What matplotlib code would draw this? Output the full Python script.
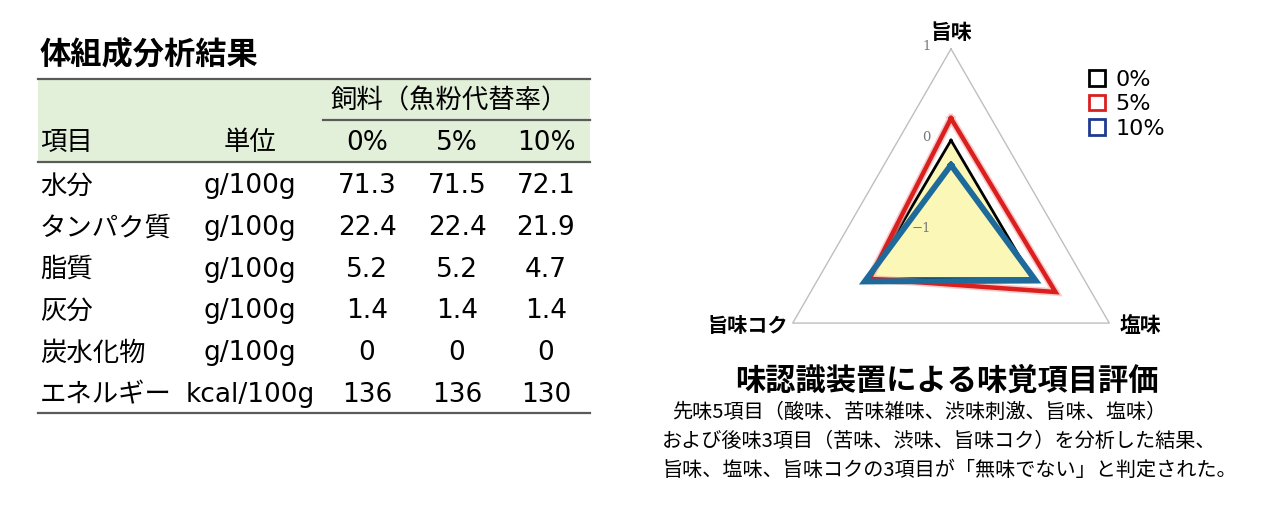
import numpy as np
import matplotlib
matplotlib.use("Agg")
import matplotlib.pyplot as plt
from matplotlib.patches import Patch, Rectangle

# 体組成分析結果（表）
items = ['水分', 'タンパク質', '脂質', '灰分', '炭水化物', 'エネルギー']
units = ['g/100g', 'g/100g', 'g/100g', 'g/100g', 'g/100g', 'kcal/100g']
rate_labels = ['0%', '5%', '10%']
rate_0 = [71.3, 22.4, 5.2, 1.4, 0, 136]
rate_5 = [71.5, 22.4, 5.2, 1.4, 0, 136]
rate_10 = [72.1, 21.9, 4.7, 1.4, 0, 130]

# 味認識装置（レーダーチャート）
taste_labels = ['旨味', '塩味', '旨味コク']
taste_0 = [0.0, 0.03, 0.03]
taste_5 = [0.24, 0.32, 0.03]
taste_10 = [-0.27, 0.07, 0.09]
r_ticks = [-1, 0, 1]

W, H = 1271, 509
fig = plt.figure(figsize=(W / 100, H / 100), dpi=100)

# 背景用の軸（ピクセル座標）
bg = fig.add_axes([0, 0, 1, 1])
bg.set_xlim(0, W)
bg.set_ylim(H, 0)
bg.axis('off')

jp = ['Noto Sans CJK JP']
mix = ['DejaVu Sans', 'Noto Sans CJK JP']
line_c = '#5a5a5a'

bg.text(40, 55, '体組成分析結果', family=jp, fontweight='bold', fontsize=22.5,
        ha='left', va='center')

bg.add_patch(Rectangle((38, 79), 552, 83, facecolor='#e2efd9', edgecolor='none'))
bg.plot([38, 590], [79, 79], color=line_c, lw=1.6)
bg.plot([323, 590], [120, 120], color=line_c, lw=1.6)
bg.plot([38, 590], [162, 162], color=line_c, lw=1.6)

col_x = [367, 457, 546]
bg.text(449, 101, '飼料（魚粉代替率）', family=jp, fontsize=19, ha='center', va='center')
bg.text(40, 143, '項目', family=jp, fontsize=19, ha='left', va='center')
bg.text(250, 143, '単位', family=jp, fontsize=19, ha='center', va='center')
for x, lab in zip(col_x, rate_labels):
    bg.text(x, 143, lab, family=mix, fontsize=19, ha='center', va='center')

row_y0, row_dy = 186, 41.8
for i, (it, un) in enumerate(zip(items, units)):
    y = row_y0 + i * row_dy
    bg.text(40, y, it, family=jp, fontsize=19, ha='left', va='center')
    bg.text(250, y, un, family=mix, fontsize=19, ha='center', va='center')
    for x, col in zip(col_x, [rate_0, rate_5, rate_10]):
        bg.text(x, y, f'{col[i]:g}', family=mix, fontsize=19, ha='center', va='center')
bg.plot([38, 590], [413, 413], color=line_c, lw=1.6)

# 下部の説明文
bg.text(947, 381, '味認識装置による味覚項目評価', family=jp, fontweight='bold',
        fontsize=21.8, ha='center', va='center')
body = ['先味5項目（酸味、苦味雑味、渋味刺激、旨味、塩味）',
        'および後味3項目（苦味、渋味、旨味コク）を分析した結果、',
        '旨味、塩味、旨味コクの3項目が「無味でない」と判定された。']
for j, (line, x) in enumerate(zip(body, [672, 662, 662])):
    bg.text(x, 412 + 29 * j, line, family=jp, fontsize=14.5, ha='left', va='center')

# レーダーチャート
cx, cy, scale = 951, 231.7, 91.4
ax_w, ax_h = 440, 400
ax = fig.add_axes([(cx - ax_w / 2) / W, 1 - (cy + ax_h / 2) / H, ax_w / W, ax_h / H])
ax.set_xlim(-ax_w / 2 / scale, ax_w / 2 / scale)
ax.set_ylim(-ax_h / 2 / scale, ax_h / 2 / scale)
ax.axis('off')

angles = np.deg2rad([90, -30, 210])
r_min = r_ticks[0]


def to_xy(vals):
    r = np.asarray(vals, dtype=float) - r_min
    x = r * np.cos(angles)
    y = r * np.sin(angles)
    return np.append(x, x[0]), np.append(y, y[0])


ox, oy = to_xy([r_ticks[-1]] * 3)
ax.plot(ox, oy, color='#bfbfbf', lw=1.0)

x0, y0 = to_xy(taste_0)
ax.fill(x0, y0, color='#fbf7b6', zorder=2)
ax.plot(x0, y0, color='black', lw=2, zorder=3, solid_joinstyle='miter')
x5, y5 = to_xy(taste_5)
ax.plot(x5, y5, color='#f4a7a7', lw=5.5, zorder=3, alpha=0.6, solid_joinstyle='miter')
ax.plot(x5, y5, color='#d9201f', lw=3.2, zorder=4, solid_joinstyle='miter')
x10, y10 = to_xy(taste_10)
ax.plot(x10, y10, color='#1e6a9a', lw=4.2, zorder=5, solid_joinstyle='miter')

for t in r_ticks:
    ax.text(-0.22, t - r_min + 0.03, str(t).replace('-', '−'),
            family='DejaVu Serif', fontsize=9.5, color='#777777', ha='right', va='center',
            zorder=6)

bg.text(951, 32, taste_labels[0], family=jp, fontweight='bold', fontsize=15,
        ha='center', va='center')
bg.text(1140, 325, taste_labels[1], family=jp, fontweight='bold', fontsize=15,
        ha='center', va='center')
bg.text(748, 325, taste_labels[2], family=jp, fontweight='bold', fontsize=14.5,
        ha='center', va='center')

handles = [Patch(facecolor='white', edgecolor=c, linewidth=2)
           for c in ['black', '#d9201f', '#1f3a93']]
fig.legend(handles, rate_labels, loc='upper left', bbox_to_anchor=(1089 / W, 1 - 70 / H),
           frameon=False, prop={'family': 'DejaVu Sans', 'size': 16},
           handlelength=0.7, handleheight=0.7, handletextpad=0.5,
           labelspacing=0.2, borderpad=0, borderaxespad=0)

fig.savefig('out.png', dpi=100)
